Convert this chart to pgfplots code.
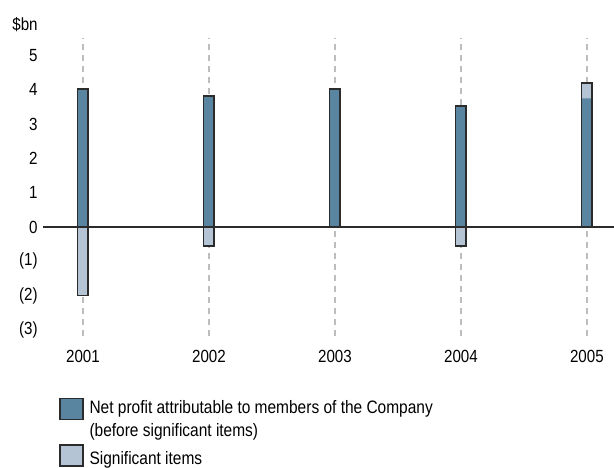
\documentclass[border=0pt]{standalone}
\usepackage{fontspec}
\setmainfont{Liberation Sans}[FakeStretch=0.86]
\usepackage{pgfplots}
\pgfplotsset{compat=1.18}
\definecolor{netblue}{HTML}{5A85A0}
\definecolor{sigblue}{HTML}{B4C4D4}
\definecolor{edge}{HTML}{2B2B2B}
\definecolor{gridgrey}{HTML}{BDBDBD}
\begin{document}
\begin{tikzpicture}
\begin{axis}[
  at={(0,0)}, anchor=south west,
  scale only axis,
  width=285.5pt, height=149pt,
  xmin=2000.683, xmax=2005.215,
  ymin=-3.18, ymax=5.51,
  axis line style={draw=none},
  major tick length=0pt,
  xtick={2001,2002,2003,2004,2005},
  xticklabels={2001,2002,2003,2004,2005},
  ytick={-3,-2,-1,0,1,2,3,4,5},
  yticklabels={(3),(2),(1),0,1,2,3,4,5},
  /pgf/number format/assume math mode=true,
  ticklabel style={font=\fontsize{8.8}{10}\selectfont},
  yticklabel style={inner sep=2.5pt},
  xticklabel style={yshift=-3.5pt},
  xmajorgrids=true,
  major grid style={gridgrey, line width=0.75pt, dash pattern=on 3pt off 2.5pt},
  legend style={at={(0,0)}, anchor=north west, xshift=8pt, yshift=-30pt,
    draw=none, fill=none, inner sep=0pt,
    cells={align=left, anchor=west},
    font=\fontsize{9}{11.3}\selectfont, row sep=0.5pt},
  legend cell align=left,
]
\draw[edge, line width=0.9pt] (axis cs:2000.683,0) -- (axis cs:2005.215,0);
% significant items
\addplot[ybar, bar width=5.25pt, bar shift=0pt, fill=sigblue, draw=none, forget plot]
  coordinates {(2001,-2.0) (2002,-0.55) (2004,-0.55) (2005,4.2)};
% net profit before significant items
\addplot[ybar, bar width=5.25pt, bar shift=0pt, fill=netblue, draw=none, forget plot]
  coordinates {(2001,4.02) (2002,3.82) (2003,4.02) (2004,3.53) (2005,3.75)};
% outlines
\addplot[ybar, bar width=5.25pt, bar shift=0pt, fill=none, draw=edge, line width=0.75pt, forget plot]
  coordinates {(2001,4.02) (2002,3.82) (2003,4.02) (2004,3.53) (2005,4.2)};
\addplot[ybar, bar width=5.25pt, bar shift=0pt, fill=none, draw=edge, line width=0.75pt, forget plot]
  coordinates {(2001,-2.0) (2002,-0.55) (2004,-0.55)};
\addlegendimage{legend image code/.code={\draw[fill=netblue, draw=edge, line width=0.75pt] (0pt,0pt) rectangle (11.5pt,10.5pt); \path (12.5pt,0pt);}}
\addlegendentry{Net profit attributable to members of the Company\\(before significant items)}
\addlegendimage{legend image code/.code={\draw[fill=sigblue, draw=edge, line width=0.75pt] (0pt,-3.1pt) rectangle (11.5pt,7.4pt); \path (12.5pt,0pt);}}
\addlegendentry{Significant items}
\end{axis}
\node[anchor=base east, inner sep=0pt, font=\fontsize{8.8}{10}\selectfont] at (-2.5pt,153pt) {\$bn};
\pgfresetboundingbox
\path[use as bounding box] (-21.5pt,-65.5pt) rectangle (285.5pt,168pt);
\end{tikzpicture}
\end{document}
